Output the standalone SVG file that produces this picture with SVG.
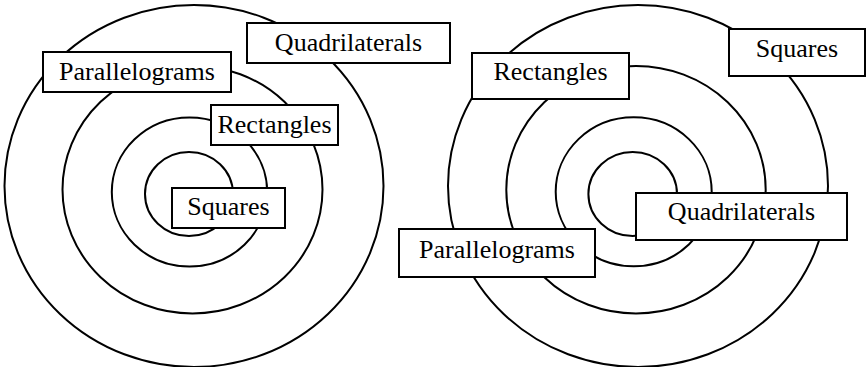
<svg xmlns="http://www.w3.org/2000/svg" width="866" height="367" viewBox="0 0 866 367">
<style>
.ring{fill:none;stroke:#000;stroke-width:2}
.box{fill:#fff;stroke:#000;stroke-width:2}
.lbl{font-family:Liberation Serif,serif;font-size:26px;fill:#000;text-anchor:middle}
</style>
<rect width="866" height="367" fill="#fff"/>
<g id="rings-left">
<ellipse class="ring" cx="194" cy="186" rx="189.5" ry="181"/>
<ellipse class="ring" cx="192.5" cy="189.5" rx="130" ry="124"/>
<ellipse class="ring" cx="189.5" cy="192" rx="77.7" ry="74.5"/>
<ellipse class="ring" cx="189" cy="194" rx="44" ry="42"/>
</g>
<g id="rings-right">
<ellipse class="ring" cx="638" cy="186" rx="190" ry="181"/>
<ellipse class="ring" cx="636" cy="189.7" rx="129.7" ry="123.7"/>
<ellipse class="ring" cx="633.7" cy="191.8" rx="78" ry="74.5"/>
<ellipse class="ring" cx="632.7" cy="194" rx="44.3" ry="42"/>
</g>
<g id="left-quadrilaterals"><rect class="box" x="247" y="23" width="203" height="40"/><text class="lbl" x="348.5" y="51">Quadrilaterals</text></g>
<g id="left-parallelograms"><rect class="box" x="43" y="52" width="188" height="40"/><text class="lbl" x="137" y="80">Parallelograms</text></g>
<g id="left-rectangles"><rect class="box" x="211" y="105" width="127" height="40"/><text class="lbl" x="274.5" y="133">Rectangles</text></g>
<g id="left-squares"><rect class="box" x="172" y="188" width="113" height="40"/><text class="lbl" x="228.5" y="215">Squares</text></g>
<g id="right-rectangles"><rect class="box" x="472" y="53" width="157" height="46"/><text class="lbl" x="550.5" y="80">Rectangles</text></g>
<g id="right-squares"><rect class="box" x="729" y="29" width="136" height="47"/><text class="lbl" x="797" y="57">Squares</text></g>
<g id="right-quadrilaterals"><rect class="box" x="636" y="193" width="211" height="47"/><text class="lbl" x="741.5" y="220">Quadrilaterals</text></g>
<g id="right-parallelograms"><rect class="box" x="399" y="229" width="196" height="48"/><text class="lbl" x="497" y="258">Parallelograms</text></g>
</svg>
